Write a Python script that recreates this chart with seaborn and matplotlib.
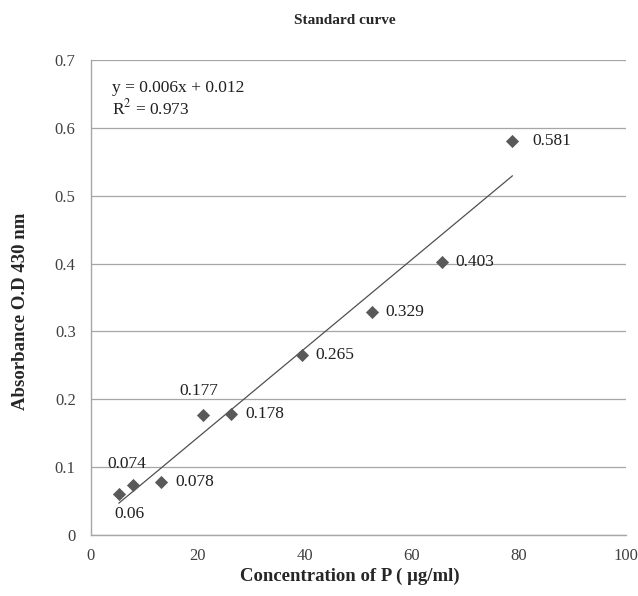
"""
Standard curve: absorbance at 430 nm against P concentration, with linear trendline.
Output: out.png
"""

import matplotlib.pyplot as plt
import pandas as pd
import seaborn as sns

CONC = [5.2, 7.8, 13.1, 21.0, 26.2, 39.4, 52.5, 65.6, 78.8]
ABSORB = [0.060, 0.074, 0.078, 0.177, 0.178, 0.265, 0.329, 0.403, 0.581]
LABELS = ["0.06", "0.074", "0.078", "0.177", "0.178", "0.265", "0.329", "0.403", "0.581"]
# label offsets in points (dx, dy)
OFFSETS = [(-3, -14), (-18, 15), (10, 0), (-17, 17), (10, 0), (10, 0), (10, 0), (10, 0), (14, 0)]

EQUATION = "y = 0.006x + 0.012\nR$^2$ = 0.973"

GREY = "#a6a6a6"
TEXT = "#404040"
MARK = "#595959"


def main() -> None:
    df = pd.DataFrame({"conc": CONC, "od": ABSORB})

    sns.set_style("white")
    plt.rcParams["font.family"] = ["Liberation Serif", "DejaVu Serif"]
    plt.rcParams["mathtext.fontset"] = "stix"

    fig = plt.figure(figsize=(6.38, 5.96), dpi=100)
    ax = fig.add_axes([0.1426, 0.1023, 0.8384, 0.797])

    sns.regplot(
        data=df, x="conc", y="od", ax=ax, scatter=False, ci=None, truncate=True,
        line_kws={"color": "#505050", "lw": 0.9},
    )
    sns.scatterplot(
        data=df, x="conc", y="od", ax=ax, marker="D", s=45,
        color=MARK, edgecolor=MARK, linewidth=0, zorder=3,
    )

    for x, y, lab, (dx, dy) in zip(CONC, ABSORB, LABELS, OFFSETS):
        ax.annotate(lab, (x, y), xytext=(dx, dy), textcoords="offset points",
                    fontsize=12.5, color="#202020", va="center", ha="left")

    ax.text(0.04, 0.957, EQUATION, transform=ax.transAxes, fontsize=12.5,
            color="#202020", va="top", linespacing=1.1)

    ax.set_xlim(0, 100)
    ax.set_ylim(0, 0.7)
    ax.set_xticks(range(0, 101, 20))
    ax.set_yticks([i / 10 for i in range(8)])
    ax.set_yticklabels(["0"] + [f"0.{i}" for i in range(1, 8)])
    ax.yaxis.grid(True, color=GREY, lw=0.9)
    ax.set_axisbelow(True)

    for side in ("top", "right"):
        ax.spines[side].set_visible(False)
    for side in ("left", "bottom"):
        ax.spines[side].set_color(GREY)
        ax.spines[side].set_linewidth(1.0)
    ax.tick_params(axis="both", length=5, width=0.9, color=GREY,
                   labelsize=12, labelcolor=TEXT, direction="out")
    ax.tick_params(axis="x", pad=4)
    ax.tick_params(axis="y", pad=6)

    ax.set_xlabel("Concentration of P ( \u00b5g/ml)", fontsize=13.5, fontweight="bold")
    ax.xaxis.set_label_coords(0.483, -0.068)
    ax.set_ylabel("Absorbance O.D 430 nm", fontsize=13.5, fontweight="bold")
    ax.yaxis.set_label_coords(-0.115, 0.47)
    fig.text(0.54, 0.965, "Standard curve", fontsize=11, fontweight="bold", ha="center", va="center")

    fig.savefig("out.png", dpi=100)
    plt.close(fig)


if __name__ == "__main__":
    main()
